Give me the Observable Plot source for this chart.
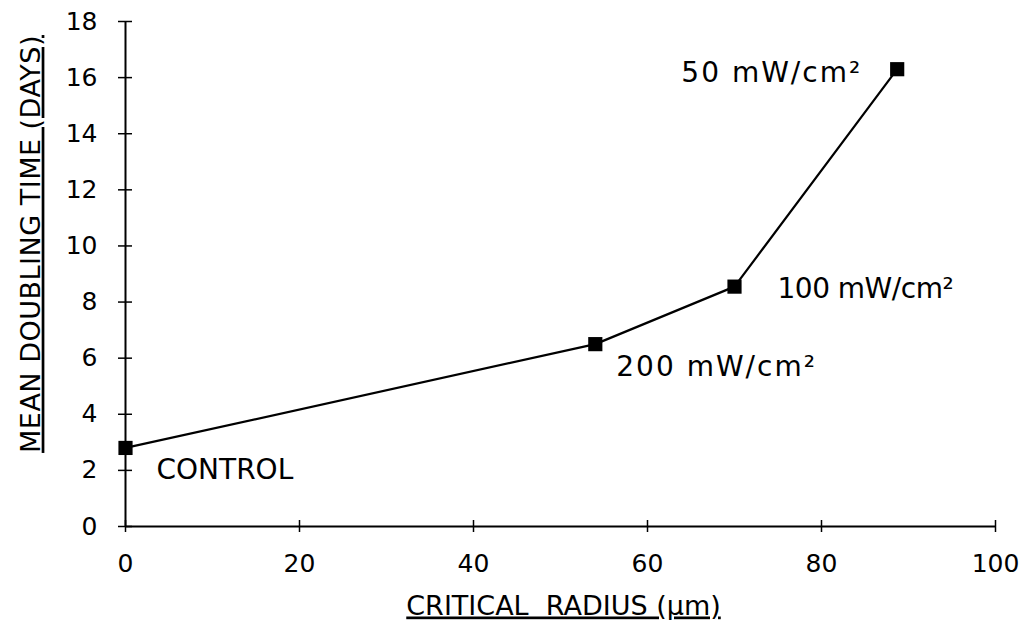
<!DOCTYPE html>
<html>
<head>
<meta charset="utf-8">
<script src="https://cdn.jsdelivr.net/npm/d3@7"></script>
<script src="https://cdn.jsdelivr.net/npm/@observablehq/plot@0.6"></script>
<style>
  html, body { margin: 0; padding: 0; background: #fff; }
  #chart svg { display: block; }
</style>
</head>
<body>
<div id="chart"></div>
<script>
// Data
const radius = [0, 54, 70, 88.7];          // critical radius (µm)
const doubling = [2.8, 6.5, 8.55, 16.3];    // mean doubling time (days)
const labels = ["CONTROL", "200 mW/cm²", "100 mW/cm²", "50 mW/cm²"];
const xTicks = [0, 20, 40, 60, 80, 100];
const yTicks = [0, 2, 4, 6, 8, 10, 12, 14, 16, 18];

const data = radius.map((r, i) => ({x: r, y: doubling[i], label: labels[i]}));

const font = "'DejaVu Sans', sans-serif";

const plot = Plot.plot({
  width: 1024,
  height: 620,
  marginLeft: 125,
  marginRight: 29,
  marginTop: 21,
  marginBottom: 94,
  style: {fontFamily: font, fontSize: "24px", color: "#000", background: "#fff"},
  x: {domain: [0, 100]},
  y: {domain: [0, 18]},
  marks: [
    // axis lines
    Plot.ruleY([0], {stroke: "#000", strokeWidth: 2}),
    Plot.ruleX([0], {stroke: "#000", strokeWidth: 2}),
    // crossing tick marks
    Plot.axisX({ticks: xTicks, tickSize: 12, dy: -6, text: null, label: null, strokeWidth: 1.5}),
    Plot.axisY({ticks: yTicks, tickSize: 14, dx: 7, text: null, label: null, strokeWidth: 1.5}),
    // tick labels
    Plot.axisX({ticks: xTicks, tickSize: 0, tickPadding: 28, fontSize: 25, label: null}),
    Plot.axisY({ticks: yTicks, tickSize: 0, tickPadding: 28, fontSize: 25, label: null}),
    // axis titles
    Plot.axisX({ticks: xTicks, tickSize: 0, text: null, fontSize: 27,
      label: "CRITICAL  RADIUS (µm)", labelAnchor: "center", labelArrow: "none", labelOffset: 88}),
    Plot.axisY({ticks: yTicks, tickSize: 0, text: null, fontSize: 27,
      label: "MEAN DOUBLING TIME (DAYS)", labelAnchor: "center", labelArrow: "none", labelOffset: 105}),
    // data
    Plot.line(data, {x: "x", y: "y", stroke: "#000", strokeWidth: 2.2}),
    Plot.dot(data, {x: "x", y: "y", symbol: "square", r: 8, fill: "#000", stroke: "none"}),
    // annotations
    Plot.text(data.filter((d, i) => i === 0), {x: "x", y: "y", text: "label", textAnchor: "start", dx: 31, dy: 22, fontSize: 28}),
    Plot.text(data.filter((d, i) => i === 1), {x: "x", y: "y", text: "label", textAnchor: "start", dx: 21, dy: 23, fontSize: 28, className: "mw"}),
    Plot.text(data.filter((d, i) => i === 2), {x: "x", y: "y", text: "label", textAnchor: "start", dx: 43, dy: 2, fontSize: 28, className: "mw-tight"}),
    Plot.text(data.filter((d, i) => i === 3), {x: "x", y: "y", text: "label", textAnchor: "end", dx: -35, dy: 4, fontSize: 28, className: "mw"})
  ]
});

document.getElementById("chart").appendChild(plot);

// styling details
const sel = d3.select(plot);
sel.selectAll("g[aria-label='x-axis label'] text, g[aria-label='y-axis label'] text")
  .style("text-decoration", "underline");
sel.selectAll("g[aria-label='y-axis label'] text").style("letter-spacing", "0.5px");
sel.selectAll(".mw text").style("letter-spacing", "2px");
sel.selectAll(".mw-tight text").style("letter-spacing", "-0.5px");
// nudge axis titles to the positions used in the original figure
sel.selectAll("g[aria-label='y-axis label']").each(function() {
  const t = this.getAttribute("transform") || "";
  this.setAttribute("transform", "translate(0,-30) " + t);
});
sel.selectAll("g[aria-label='x-axis label']").each(function() {
  const t = this.getAttribute("transform") || "";
  this.setAttribute("transform", "translate(3,0) " + t);
});
</script>
</body>
</html>
